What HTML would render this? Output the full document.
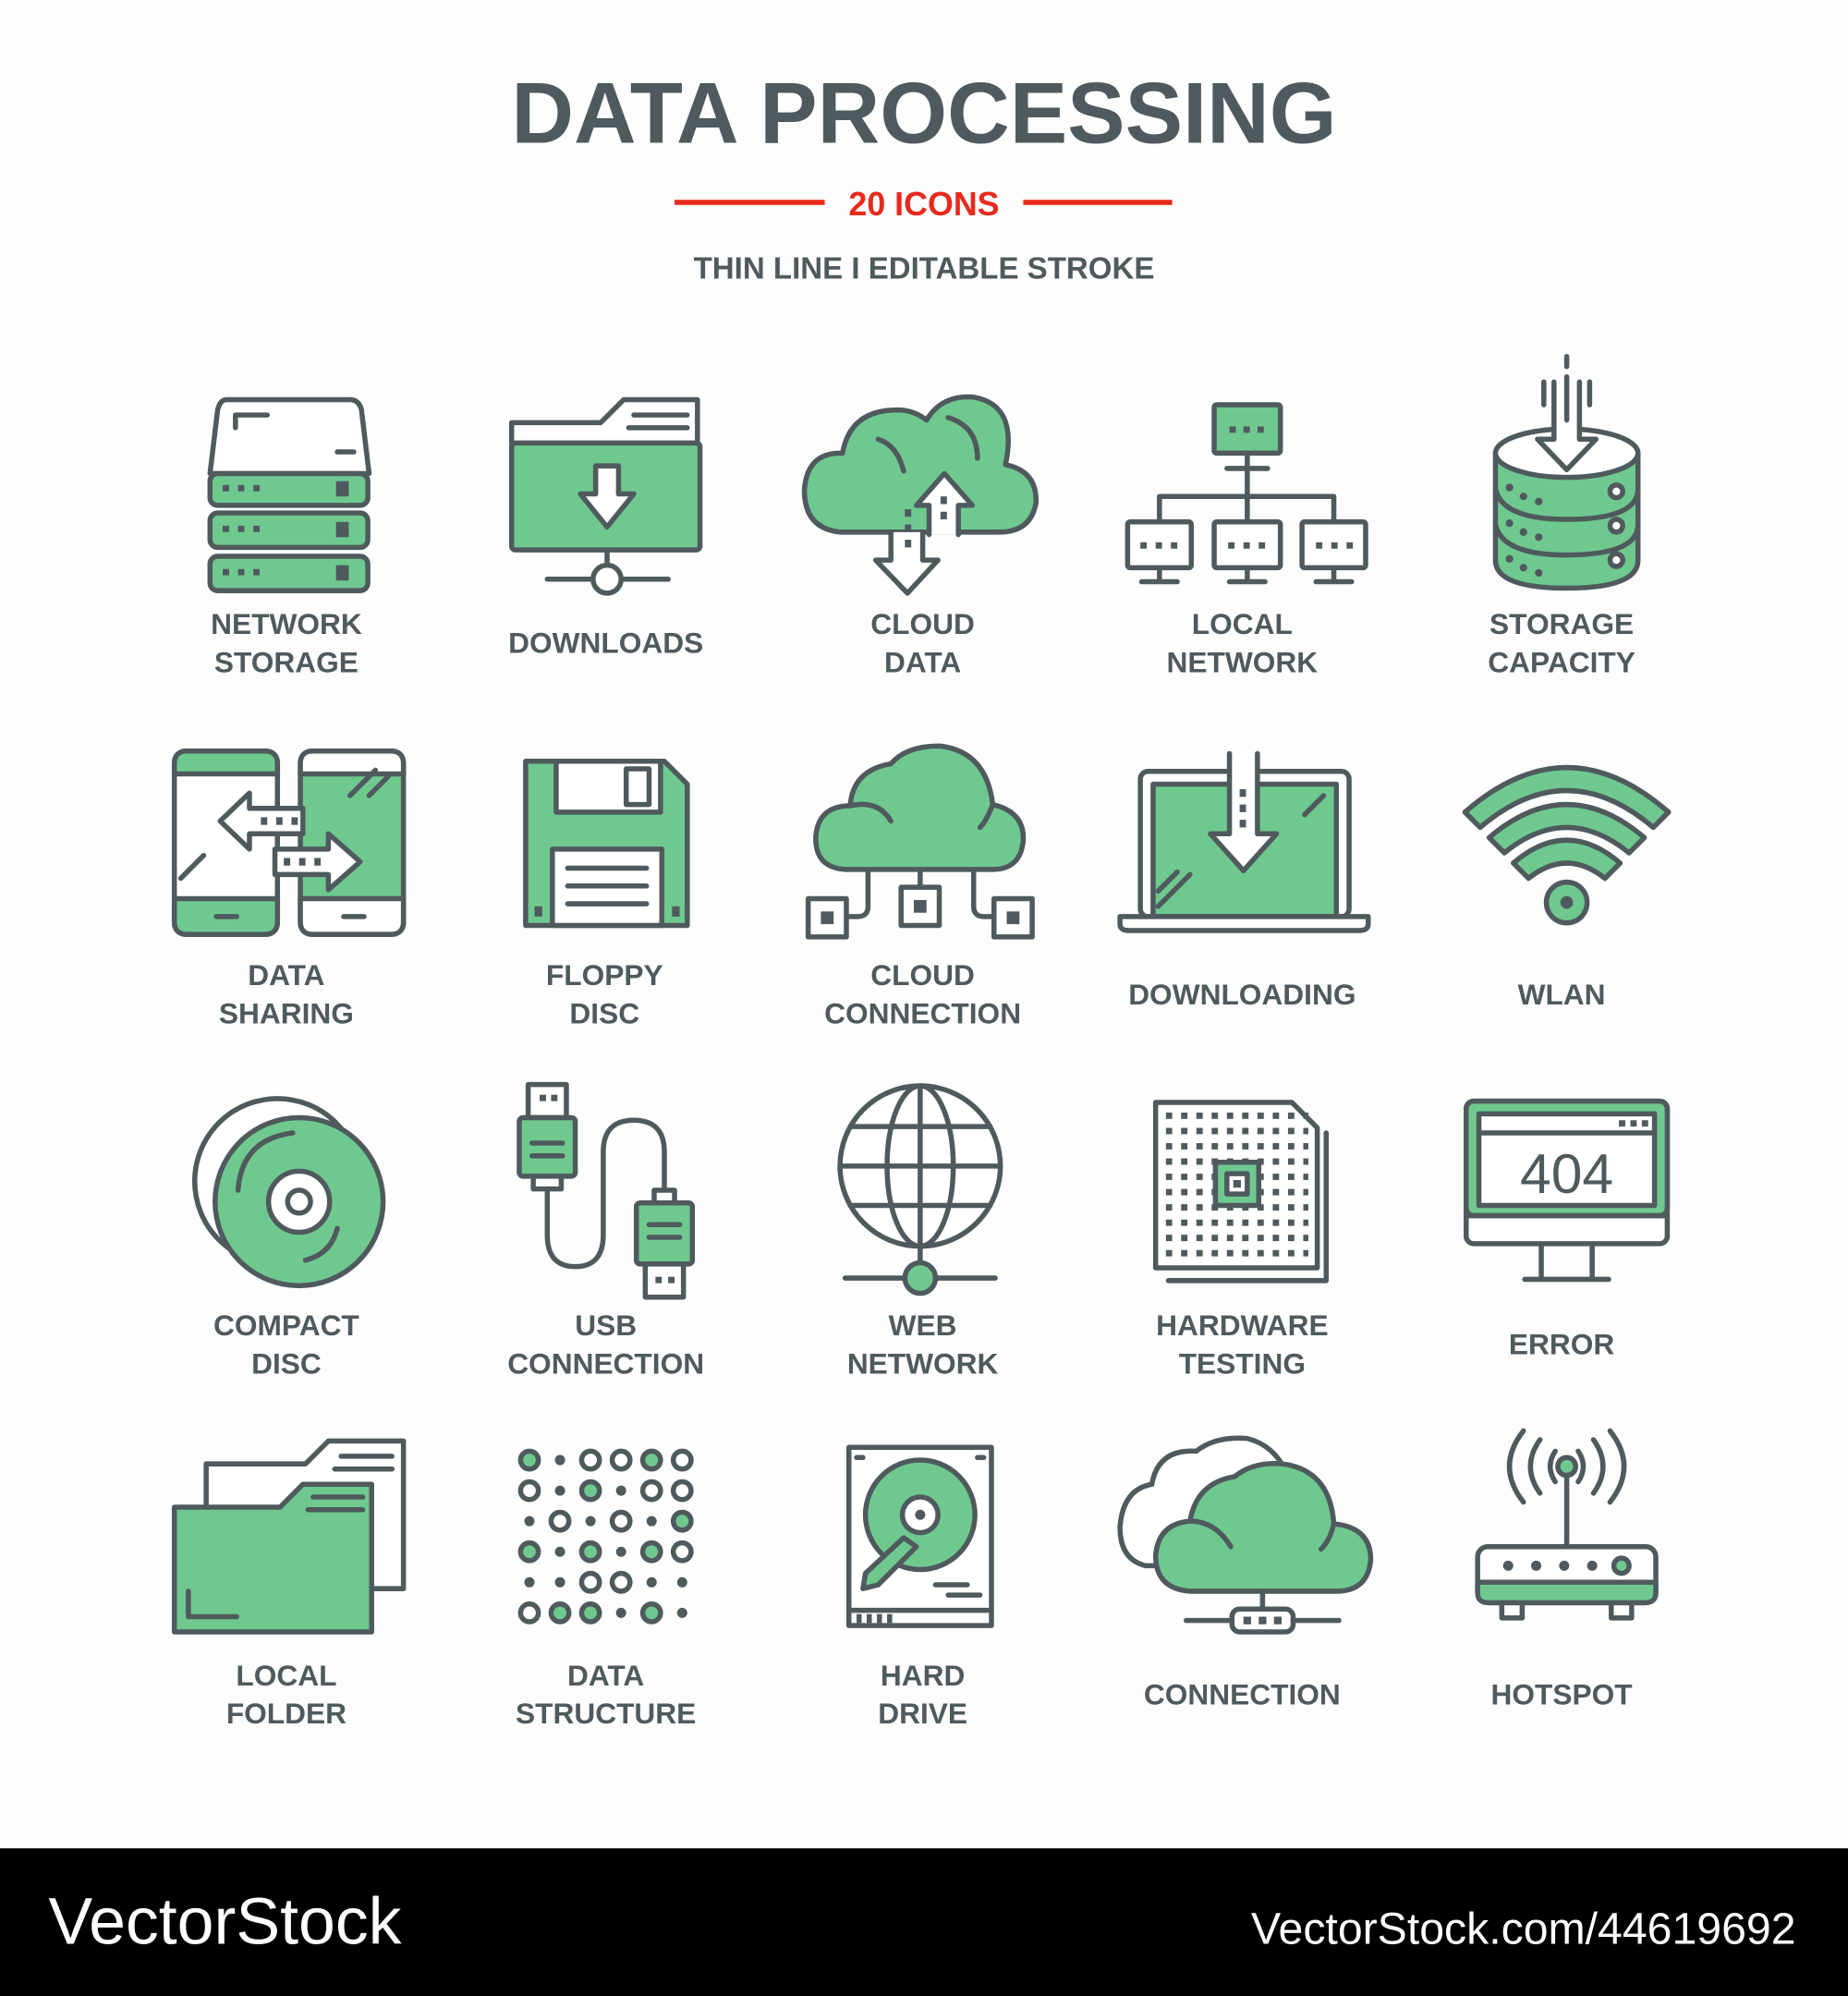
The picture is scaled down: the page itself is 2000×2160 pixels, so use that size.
<!DOCTYPE html>
<html><head><meta charset="utf-8"><style>
html,body{margin:0;padding:0;background:#fdfdfd}
svg{display:block}
.s{fill:none;stroke:#4f5a5e;stroke-width:4;stroke-linejoin:round;stroke-linecap:round}
.w{fill:#fff;stroke:#4f5a5e;stroke-width:4;stroke-linejoin:round;stroke-linecap:round}
.g{fill:#6fc98f;stroke:#4f5a5e;stroke-width:4;stroke-linejoin:round;stroke-linecap:round}
.d{fill:#4f5a5e}
.l{font-family:"Liberation Sans",sans-serif;font-weight:bold;font-size:23px;fill:#4f5a5e;text-anchor:middle}
</style></head><body>
<svg width="2000" height="2160" viewBox="0 0 1452 1568" preserveAspectRatio="none" xmlns="http://www.w3.org/2000/svg">
<rect width="1452" height="1452" fill="#fdfdfd"/>
<text x="726" y="112" text-anchor="middle" font-family="Liberation Sans,sans-serif" font-weight="bold" font-size="68" fill="#4f5a5e">DATA PROCESSING</text>
<line x1="530" y1="159" x2="648" y2="159" stroke="#e8291c" stroke-width="4"/>
<line x1="804" y1="159" x2="921" y2="159" stroke="#e8291c" stroke-width="4"/>
<text x="726" y="169" text-anchor="middle" font-family="Liberation Sans,sans-serif" font-weight="bold" font-size="26" fill="#e8291c">20 ICONS</text>
<text x="726" y="219" text-anchor="middle" font-family="Liberation Sans,sans-serif" font-weight="bold" font-size="24" fill="#4f5a5e">THIN LINE I EDITABLE STROKE</text>

<!-- Row 1 -->
<path class="w" d="M178 314 H275 Q282 314 284 322 L290 372 H165 L171 322 Q173 314 178 314Z"/>
<path class="s" d="M185 336 V326 H210"/><path class="s" d="M265 355 H278"/>
<rect class="g" x="165" y="372" width="124" height="25" rx="6"/>
<rect class="g" x="165" y="403" width="124" height="27" rx="6"/>
<rect class="g" x="165" y="437" width="124" height="27" rx="6"/>
<g class="d"><rect x="175" y="381" width="5" height="5"/><rect x="187" y="381" width="5" height="5"/><rect x="199" y="381" width="5" height="5"/><rect x="264" y="378" width="10" height="12"/>
<rect x="175" y="413" width="5" height="5"/><rect x="187" y="413" width="5" height="5"/><rect x="199" y="413" width="5" height="5"/><rect x="264" y="410" width="10" height="12"/>
<rect x="175" y="447" width="5" height="5"/><rect x="187" y="447" width="5" height="5"/><rect x="199" y="447" width="5" height="5"/><rect x="264" y="444" width="10" height="12"/></g>
<text class="l" x="225" y="498">NETWORK</text><text class="l" x="225" y="528">STORAGE</text>

<path class="w" d="M402 348 V332 H472 L490 314 H548 V348"/>
<path class="s" d="M498 326 H540 M494 336 H540"/>
<rect class="g" x="402" y="348" width="148" height="84" rx="3"/>
<path class="w" d="M468 366 H486 V388 H498 L477 414 L456 388 H468Z"/>
<path class="s" d="M477 432 V444 M430 455 H466 M488 455 H525"/><circle class="w" cx="477" cy="455" r="11"/>
<text class="l" x="476" y="513">DOWNLOADS</text>

<path class="g" d="M660 418 Q632 415 632 385 Q634 355 662 356 Q668 322 705 322 Q718 322 728 330 Q740 310 765 312 Q800 318 790 365 Q815 370 814 395 Q810 418 785 418Z"/>
<path class="s" d="M745 328 Q768 335 768 360 M690 345 Q705 350 710 370"/>
<path class="w" d="M700 418 V440 H688 L713 466 L737 440 H725 V418"/>
<path class="w" d="M730 420 V397 H720 L742 372 L764 397 H753 V420"/>
<g class="d"><rect x="711" y="400" width="5" height="6"/><rect x="711" y="412" width="5" height="6"/><rect x="711" y="424" width="5" height="6"/><rect x="739" y="390" width="5" height="6"/><rect x="739" y="402" width="5" height="6"/></g>
<text class="l" x="725" y="498">CLOUD</text><text class="l" x="725" y="528">DATA</text>

<rect class="g" x="954" y="318" width="52" height="38" rx="2"/>
<g class="d"><rect x="966" y="335" width="5" height="5"/><rect x="977" y="335" width="5" height="5"/><rect x="988" y="335" width="5" height="5"/></g>
<path class="s" d="M980 356 V410 M964 368 H996 M911 410 V390 H1048 V410"/>
<rect class="w" x="886" y="410" width="50" height="36" rx="2"/><rect class="w" x="954" y="410" width="52" height="36" rx="2"/><rect class="w" x="1023" y="410" width="50" height="36" rx="2"/>
<path class="s" d="M911 446 V456 M897 457 H925 M980 446 V456 M966 457 H994 M1048 446 V456 M1034 457 H1062"/>
<g class="d"><rect x="896" y="426" width="5" height="5"/><rect x="908" y="426" width="5" height="5"/><rect x="920" y="426" width="5" height="5"/><rect x="965" y="426" width="5" height="5"/><rect x="977" y="426" width="5" height="5"/><rect x="989" y="426" width="5" height="5"/><rect x="1034" y="426" width="5" height="5"/><rect x="1046" y="426" width="5" height="5"/><rect x="1058" y="426" width="5" height="5"/></g>
<text class="l" x="976" y="498">LOCAL</text><text class="l" x="976" y="528">NETWORK</text>

<path class="g" d="M1175 356 V440 Q1175 462 1231 462 Q1287 462 1287 440 V356"/>
<path class="s" d="M1175 384 Q1180 408 1231 408 Q1287 408 1287 384 M1175 412 Q1180 436 1231 436 Q1287 436 1287 412"/>
<ellipse class="w" cx="1231" cy="356" rx="56" ry="19"/>
<path class="w" d="M1221 300 V345 H1208 L1231 369 L1254 345 H1241 V300"/>
<path class="s" d="M1231 280 V288 M1231 296 V330 M1213 300 V318 M1249 300 V318"/>
<g class="w"><circle cx="1270" cy="386" r="5"/><circle cx="1270" cy="413" r="5"/><circle cx="1270" cy="440" r="5"/></g>
<g class="d"><circle cx="1186" cy="383" r="3"/><circle cx="1197" cy="390" r="3"/><circle cx="1209" cy="394" r="3"/><circle cx="1186" cy="411" r="3"/><circle cx="1197" cy="418" r="3"/><circle cx="1209" cy="422" r="3"/><circle cx="1186" cy="439" r="3"/><circle cx="1197" cy="446" r="3"/><circle cx="1209" cy="450" r="3"/></g>
<text class="l" x="1227" y="498">STORAGE</text><text class="l" x="1227" y="528">CAPACITY</text>

<!-- Row 2 -->
<rect class="w" x="137" y="590" width="81" height="144" rx="9"/>
<path class="g" d="M137 600 Q137 590 147 590 H208 Q218 590 218 600 V608 H137Z M137 706 H218 V724 Q218 734 208 734 H147 Q137 734 137 724Z"/>
<rect class="g" x="236" y="590" width="81" height="144" rx="9"/>
<path class="w" d="M236 706 H317 V724 Q317 734 307 734 H246 Q236 734 236 724Z M236 600 Q236 590 246 590 H307 Q317 590 317 600 V608 H236Z"/>
<path class="s" d="M170 720 H186 M270 720 H286 M142 690 L160 672 M275 625 L295 605 M290 625 L305 610"/>
<path class="w" d="M196 623 L173 645 L196 667 V655 H238 V635 H196Z"/>
<path class="w" d="M216 667 H258 V655 L283 677 L258 699 V687 H216Z"/>
<g class="d"><rect x="205" y="642" width="5" height="6"/><rect x="217" y="642" width="5" height="6"/><rect x="229" y="642" width="5" height="6"/><rect x="223" y="674" width="5" height="6"/><rect x="235" y="674" width="5" height="6"/><rect x="247" y="674" width="5" height="6"/></g>
<text class="l" x="225" y="774">DATA</text><text class="l" x="225" y="804">SHARING</text>

<path class="g" d="M413 598 H522 L540 616 V727 H413Z"/>
<rect class="w" x="437" y="598" width="82" height="40"/><rect class="w" x="492" y="604" width="18" height="28"/>
<rect class="w" x="434" y="667" width="86" height="60"/>
<path class="s" d="M446 682 H508 M446 696 H508 M446 710 H508"/>
<g class="d"><rect x="420" y="712" width="6" height="8"/><rect x="528" y="712" width="6" height="8"/></g>
<text class="l" x="475" y="774">FLOPPY</text><text class="l" x="475" y="804">DISC</text>

<path class="g" d="M665 683 Q640 682 641 657 Q643 633 668 633 Q670 605 700 600 Q712 586 738 586 Q775 590 780 632 Q805 638 804 660 Q802 683 780 683Z"/>
<path class="s" d="M668 633 Q690 628 700 645 M780 632 Q775 645 770 650"/>
<path class="s" d="M682 683 V712 Q682 720 674 720 H665 M723 683 V697 M765 683 V712 Q765 720 773 720 H780"/>
<rect class="w" x="635" y="706" width="30" height="30"/><rect class="w" x="708" y="697" width="30" height="30"/><rect class="w" x="781" y="706" width="30" height="30"/>
<g class="d"><rect x="645" y="716" width="10" height="10"/><rect x="718" y="707" width="10" height="10"/><rect x="791" y="716" width="10" height="10"/></g>
<text class="l" x="725" y="774">CLOUD</text><text class="l" x="725" y="804">CONNECTION</text>

<rect class="w" x="896" y="606" width="164" height="114" rx="6"/>
<rect class="g" x="906" y="616" width="144" height="104"/>
<path class="s" d="M910 700 L925 685 M910 712 L935 687 M1025 640 L1040 625"/>
<path class="w" d="M880 720 H1075 V726 Q1075 731 1068 731 H887 Q880 731 880 726Z"/>
<path class="w" d="M966 592 V655 H951 L977 684 L1003 655 H988 V592"/>
<g class="d"><rect x="974" y="620" width="5" height="6"/><rect x="974" y="632" width="5" height="6"/><rect x="974" y="644" width="5" height="6"/></g>
<text class="l" x="976" y="789">DOWNLOADING</text>

<path class="g" d="M1151 638 Q1231 568 1311 638 L1299 650 Q1231 592 1163 650Z"/>
<path class="g" d="M1170 658 Q1231 606 1292 658 L1280 670 Q1231 630 1182 670Z"/>
<path class="g" d="M1189 678 Q1231 642 1273 678 L1261 690 Q1231 666 1201 690Z"/>
<circle class="g" cx="1231" cy="709" r="16"/><circle class="d" cx="1231" cy="709" r="5"/>
<text class="l" x="1227" y="789">WLAN</text>

<!-- Row 3 -->
<circle class="w" cx="218" cy="928" r="65"/>
<circle class="g" cx="235" cy="944" r="66"/>
<path class="s" d="M187 935 Q190 895 230 890 M265 965 Q260 985 240 990"/>
<circle class="w" cx="235" cy="944" r="24"/><circle class="w" cx="235" cy="944" r="9"/>
<text class="l" x="225" y="1049">COMPACT</text><text class="l" x="225" y="1079">DISC</text>

<rect class="w" x="415" y="852" width="30" height="26"/><g class="d"><rect x="424" y="860" width="5" height="5"/><rect x="433" y="860" width="5" height="5"/></g>
<rect class="g" x="408" y="878" width="44" height="46" rx="3"/>
<path class="s" d="M418 898 H442 M418 908 H442"/>
<rect class="w" x="419" y="924" width="22" height="10"/>
<path class="s" d="M430 934 V970 Q430 995 452 995 Q474 995 474 970 V905 Q474 880 498 880 Q522 880 522 905 V935"/>
<rect class="w" x="514" y="935" width="16" height="10"/>
<rect class="g" x="500" y="945" width="44" height="48" rx="3"/>
<path class="s" d="M510 962 H534 M510 972 H534"/>
<rect class="w" x="507" y="993" width="30" height="26"/><g class="d"><rect x="515" y="1003" width="5" height="5"/><rect x="525" y="1003" width="5" height="5"/></g>
<text class="l" x="476" y="1049">USB</text><text class="l" x="476" y="1079">CONNECTION</text>

<circle class="w" cx="723" cy="916" r="63"/>
<ellipse class="s" cx="723" cy="916" rx="26" ry="63"/>
<path class="s" d="M723 853 V979 M660 916 H786 M668 885 H778 M668 947 H778"/>
<path class="s" d="M723 979 V993 M664 1004 H710 M736 1004 H782"/>
<circle class="g" cx="723" cy="1004" r="12"/>
<text class="l" x="725" y="1049">WEB</text><text class="l" x="725" y="1079">NETWORK</text>

<path class="s" d="M1042 890 V1006 H918"/>
<path class="w" d="M908 866 H1015 L1035 886 V996 H908Z"/>
<pattern id="p" x="916" y="874" width="12" height="12" patternUnits="userSpaceOnUse"><rect width="5" height="5" fill="#4f5a5e"/></pattern>
<rect x="916" y="874" width="112" height="114" fill="url(#p)"/>
<rect class="g" x="955" y="913" width="34" height="34"/><rect class="w" x="964" y="922" width="16" height="16"/><rect class="d" x="969" y="927" width="6" height="6"/>
<text class="l" x="976" y="1049">HARDWARE</text><text class="l" x="976" y="1079">TESTING</text>

<rect class="w" x="1152" y="865" width="158" height="112" rx="6"/>
<rect class="g" x="1152" y="865" width="158" height="90" rx="6"/>
<path class="s" d="M1152 955 H1310"/>
<rect class="w" x="1162" y="875" width="138" height="72"/>
<path class="s" d="M1162 890 H1300"/>
<g class="d"><rect x="1272" y="880" width="5" height="5"/><rect x="1281" y="880" width="5" height="5"/><rect x="1290" y="880" width="5" height="5"/></g>
<text x="1231" y="937" text-anchor="middle" font-family="Liberation Sans,sans-serif" font-size="44" fill="#4f5a5e">404</text>
<path class="s" d="M1211 977 V1003 M1251 977 V1003 M1198 1005 H1264"/>
<text class="l" x="1227" y="1064">ERROR</text>

<!-- Row 4 -->
<path class="w" d="M162 1280 V1150 H240 L258 1132 H317 V1248 H290"/>
<path class="s" d="M268 1144 H308 M263 1154 H308"/>
<path class="g" d="M137 1282 V1184 H220 L238 1166 H292 V1282Z"/>
<path class="s" d="M148 1250 V1270 H186 M246 1176 H285 M242 1186 H285"/>
<text class="l" x="225" y="1324">LOCAL</text><text class="l" x="225" y="1354">FOLDER</text>

<g stroke="#4f5a5e" stroke-width="4">
<g fill="#6fc98f"><circle cx="416" cy="1147" r="7"/><circle cx="512" cy="1147" r="7"/><circle cx="464" cy="1171" r="7"/><circle cx="536" cy="1195" r="7"/><circle cx="416" cy="1219" r="7"/><circle cx="464" cy="1219" r="7"/><circle cx="512" cy="1219" r="7"/><circle cx="440" cy="1267" r="7"/><circle cx="464" cy="1267" r="7"/><circle cx="512" cy="1267" r="7"/></g>
<g fill="#fff"><circle cx="464" cy="1147" r="7"/><circle cx="488" cy="1147" r="7"/><circle cx="536" cy="1147" r="7"/><circle cx="416" cy="1171" r="7"/><circle cx="512" cy="1171" r="7"/><circle cx="536" cy="1171" r="7"/><circle cx="440" cy="1195" r="7"/><circle cx="488" cy="1195" r="7"/><circle cx="536" cy="1219" r="7"/><circle cx="464" cy="1243" r="7"/><circle cx="488" cy="1243" r="7"/><circle cx="416" cy="1267" r="7"/></g>
</g>
<g class="d"><circle cx="440" cy="1147" r="4"/><circle cx="440" cy="1171" r="4"/><circle cx="488" cy="1171" r="4"/><circle cx="416" cy="1195" r="4"/><circle cx="464" cy="1195" r="4"/><circle cx="512" cy="1195" r="4"/><circle cx="440" cy="1219" r="4"/><circle cx="488" cy="1219" r="4"/><circle cx="416" cy="1243" r="4"/><circle cx="440" cy="1243" r="4"/><circle cx="512" cy="1243" r="4"/><circle cx="536" cy="1243" r="4"/><circle cx="488" cy="1267" r="4"/><circle cx="536" cy="1267" r="4"/></g>
<text class="l" x="476" y="1324">DATA</text><text class="l" x="476" y="1354">STRUCTURE</text>

<rect class="w" x="667" y="1137" width="112" height="140"/>
<path class="s" d="M667 1265 H779"/>
<g class="d"><rect x="673" y="1268" width="4" height="7"/><rect x="681" y="1268" width="4" height="7"/><rect x="689" y="1268" width="4" height="7"/><rect x="697" y="1268" width="4" height="7"/></g>
<circle class="g" cx="723" cy="1190" r="43"/>
<circle class="w" cx="723" cy="1190" r="14"/><circle class="d" cx="723" cy="1190" r="4"/>
<path class="g" d="M720 1215 L690 1245 L678 1248 L680 1236 L710 1208Z"/>
<path class="s" d="M735 1245 H760 M745 1253 H770 M673 1145 H678 M768 1145 H773"/>
<text class="l" x="725" y="1324">HARD</text><text class="l" x="725" y="1354">DRIVE</text>

<path class="w" d="M900 1230 Q880 1225 880 1200 Q882 1170 905 1166 Q910 1138 940 1140 Q955 1128 980 1130 Q1000 1135 1010 1155 L960 1230Z"/>
<path class="g" d="M935 1250 Q908 1248 908 1222 Q910 1197 935 1195 Q940 1165 970 1160 Q985 1148 1008 1150 Q1045 1155 1048 1197 Q1077 1200 1077 1225 Q1075 1250 1050 1250Z"/>
<path class="s" d="M935 1195 Q955 1195 967 1215 M1048 1197 Q1045 1210 1038 1217"/>
<path class="s" d="M992 1250 V1266 M932 1273 H968 M1016 1273 H1052"/>
<rect class="w" x="968" y="1264" width="48" height="18" rx="6"/>
<g class="d"><rect x="977" y="1270" width="6" height="6"/><rect x="989" y="1270" width="6" height="6"/><rect x="1001" y="1270" width="6" height="6"/></g>
<text class="l" x="976" y="1339">CONNECTION</text>

<path class="s" d="M1197 1124 Q1175 1152 1197 1180 M1210 1131 Q1195 1152 1210 1173 M1222 1140 Q1214 1152 1222 1164 M1265 1124 Q1287 1152 1265 1180 M1252 1131 Q1267 1152 1252 1173 M1240 1140 Q1248 1152 1240 1164"/>
<path class="s" d="M1231 1158 V1215"/>
<circle class="g" cx="1231" cy="1152" r="7"/>
<rect class="w" x="1180" y="1255" width="16" height="16"/><rect class="w" x="1266" y="1255" width="16" height="16"/>
<rect class="w" x="1161" y="1215" width="140" height="44" rx="8"/>
<path class="g" d="M1161 1243 H1301 V1251 Q1301 1259 1293 1259 H1169 Q1161 1259 1161 1251Z"/>
<g class="d"><circle cx="1185" cy="1230" r="4"/><circle cx="1207" cy="1230" r="4"/><circle cx="1229" cy="1230" r="4"/><circle cx="1251" cy="1230" r="4"/></g>
<circle class="g" cx="1274" cy="1230" r="6" stroke-width="3"/>
<text class="l" x="1227" y="1339">HOTSPOT</text>

<rect x="0" y="1452" width="1452" height="116" fill="#000"/>
<text x="38" y="1527" font-family="Liberation Sans,sans-serif" font-size="52" fill="#fff">VectorStock</text>
<text x="1411" y="1527" text-anchor="end" font-family="Liberation Sans,sans-serif" font-size="35" fill="#fff">VectorStock.com/44619692</text>
</svg>
</body></html>
